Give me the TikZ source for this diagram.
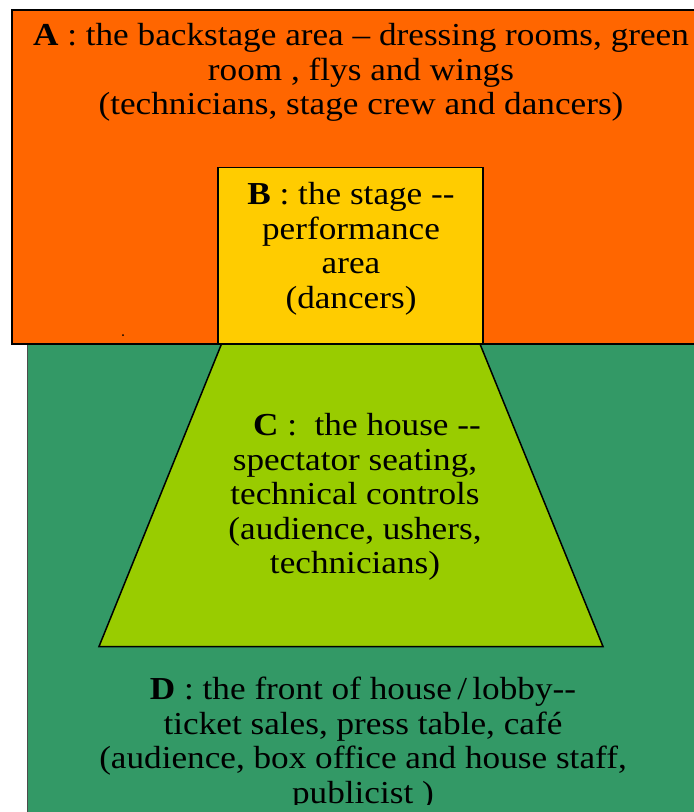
\documentclass[tikz,border=0pt]{standalone}
\usepackage{fontspec}
\setmainfont[FakeStretch=1.1]{Liberation Serif}
\definecolor{orangeA}{HTML}{FF6600}
\definecolor{yellowB}{HTML}{FFCC00}
\definecolor{greenC}{HTML}{99CC00}
\definecolor{tealD}{HTML}{339966}
\tikzset{
  zonetext/.style={align=center, inner sep=0pt, font=\fontsize{32}{34.5}\selectfont, text=black},
}
\begin{document}
\begin{tikzpicture}[x=1pt,y=-1pt]
\useasboundingbox (0,0) rectangle (694,812);
\clip (0,0) rectangle (694,812);
% D : front of house
\filldraw[fill=tealD, draw=gray!60!black, line width=1.2pt] (27.5,344) rectangle (730,850);
% A : backstage
\filldraw[fill=orangeA, draw=black, line width=2pt] (11.5,9.5) rectangle (730,344);
\fill[black] (123,335) circle (1pt);
% B : stage
\filldraw[fill=yellowB, draw=black, line width=1.3pt] (218,167.5) rectangle (483,344);
% C : house
\filldraw[fill=greenC, draw=black, line width=1.5pt] (221.5,344) -- (480,344) -- (603,646.5) -- (99,646.5) -- cycle;
% texts
\node[zonetext] (tA) at (361,72.5) {\textbf{A} : the backstage area – dressing rooms, green\\room , flys and wings\\(technicians, stage crew and dancers)};
\node[zonetext] (tB) at (351,249) {\textbf{B} : the stage -{}-\\performance\\area\\(dancers)};
\node[zonetext] (tC) at (355,497) {\hspace*{24pt}\textbf{C} :\ \ the house -{}-\\spectator seating,\\technical controls\\(audience, ushers,\\technicians)};
\begin{scope}
\clip (0,0) rectangle (694,804.5);
\node[zonetext] (tD) at (363,743.5) {\textbf{D} : the front of house\,/\,lobby-{}-\\ticket sales, press table, café\\(audience, box office and house staff,\\publicist )};
\end{scope}
\end{tikzpicture}
\end{document}
